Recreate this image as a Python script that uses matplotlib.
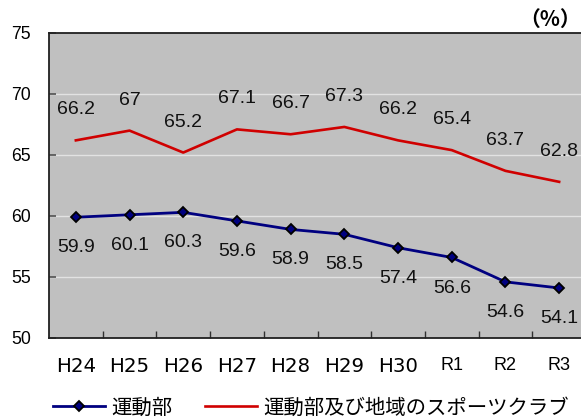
import matplotlib
matplotlib.use("Agg")
import matplotlib.pyplot as plt
from matplotlib.lines import Line2D

categories = ["H24", "H25", "H26", "H27", "H28", "H29", "H30", "R1", "R2", "R3"]
club = [59.9, 60.1, 60.3, 59.6, 58.9, 58.5, 57.4, 56.6, 54.6, 54.1]
club_region = [66.2, 67, 65.2, 67.1, 66.7, 67.3, 66.2, 65.4, 63.7, 62.8]
series_names = ["運動部", "運動部及び地域のスポーツクラブ"]
yticks = [50, 55, 60, 65, 70, 75]

cjk = ["Noto Sans CJK JP", "DejaVu Sans"]

W, H = 581, 420
fig = plt.figure(figsize=(W / 100, H / 100), dpi=100)
ax = fig.add_axes([49 / W, 82 / H, 537 / W, 305 / H])
ax.set_facecolor("#C0C0C0")
x = list(range(len(categories)))

ax.set_xlim(-0.5, len(categories) - 0.5)
ax.set_ylim(50, 75)
for g in [55, 60, 65, 70]:
    ax.axhline(g, color="#E2E2E2", lw=1.0, zorder=1)

ax.plot(x, club_region, color="#D00000", lw=1.9, zorder=3)
ax.plot(x, club, color="#000080", lw=2.0, marker="D", ms=5.5,
        mfc="#000080", mec="black", mew=1.3, zorder=4)

for xi, v in zip(x, club_region):
    ax.annotate(f"{v:g}", (xi, v), xytext=(0, 22), textcoords="offset points",
                ha="center", va="center", fontsize=14, family="Liberation Sans",
                color="#111111")
for xi, v in zip(x, club):
    ax.annotate(f"{v:g}", (xi, v), xytext=(0, -22), textcoords="offset points",
                ha="center", va="center", fontsize=14, family="Liberation Sans",
                color="#111111")

for s in ax.spines.values():
    s.set_color("#202020")
    s.set_linewidth(1.3)

ax.set_yticks(yticks)
ax.set_yticklabels([str(t) for t in yticks], family="Liberation Sans", fontsize=12.7)
ax.tick_params(axis="y", direction="in", length=5, width=1.2, color="#505050", pad=13)

ax.set_xticks(x)
ax.set_xticklabels(categories)
ax.tick_params(axis="x", length=0, pad=14)
for lab in ax.get_xticklabels():
    if lab.get_text().startswith("R"):
        lab.set_fontfamily("Liberation Sans")
        lab.set_fontsize(13)
    else:
        lab.set_fontfamily("DejaVu Sans")
        lab.set_fontsize(14.2)
ax.set_xticks([i + 0.5 for i in x[:-1]], minor=True)
ax.tick_params(axis="x", which="minor", direction="in", length=5, width=1.0, color="#303030")

fig.text(1.0, 1 - 19 / H, "（%）", ha="right", va="center",
         fontsize=15, fontweight="bold", family=["Noto Sans CJK JP"])

handles = [
    Line2D([], [], color="#000080", lw=2.0, marker="D", ms=5.5, mfc="#000080",
           mec="black", mew=1.3),
    Line2D([], [], color="#D00000", lw=1.9),
]
fig.legend(handles, series_names, loc="center left",
           bbox_to_anchor=(53 / W, 12 / H), ncol=2, frameon=False,
           prop={"family": cjk, "size": 14.7}, handlelength=2.55,
           handletextpad=0.3, columnspacing=1.6, borderpad=0, borderaxespad=0,
           numpoints=1)

fig.savefig("out.png", dpi=100)
